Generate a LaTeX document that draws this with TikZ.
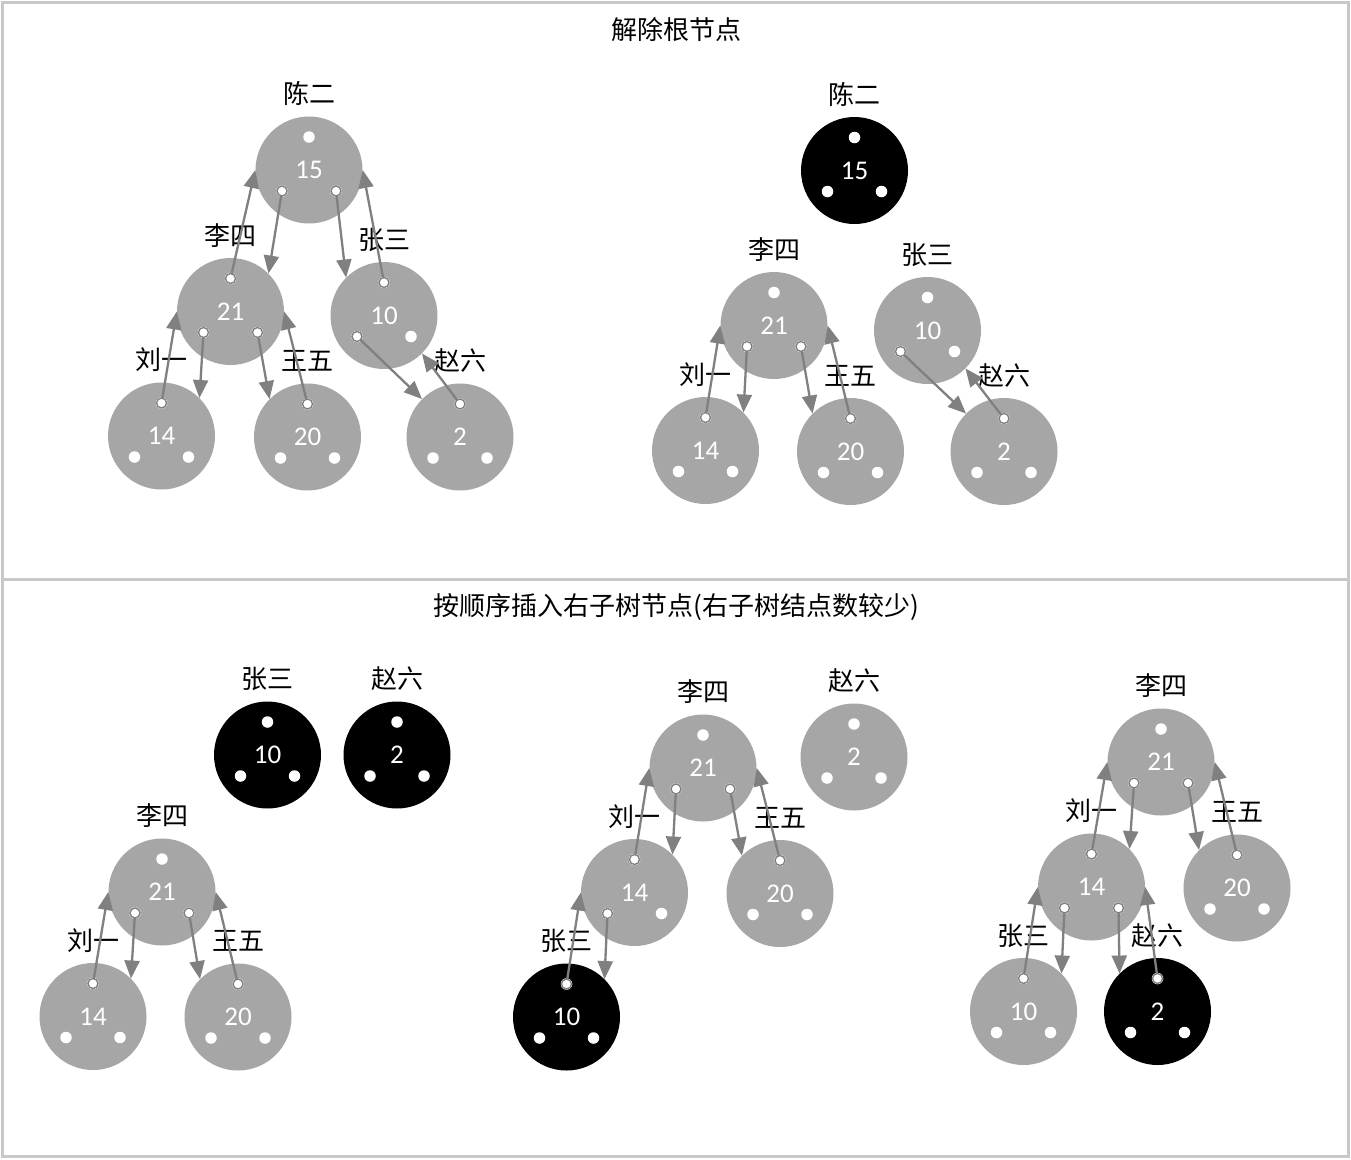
\documentclass[tikz,border=0pt]{standalone}
\usepackage{fontspec}
\setmainfont{Carlito}
\newfontfamily\cjk{Noto Sans CJK SC}
\usetikzlibrary{arrows.meta,calc}
\definecolor{nodegray}{HTML}{A6A6A6}
\definecolor{arrgray}{HTML}{808080}
\definecolor{framegray}{HTML}{C8C8C8}
\tikzset{
  gnode/.style={circle,fill=nodegray,inner sep=0pt,minimum size=107pt,text=white,font=\fontsize{27}{30}\selectfont},
  bnode/.style={circle,fill=black,inner sep=0pt,minimum size=107pt,text=white,font=\fontsize{27}{30}\selectfont},
  dotw/.style={circle,fill=white,inner sep=0pt,minimum size=11.5pt},
  dotring/.style={circle,fill=white,draw=arrgray,line width=1.4pt,inner sep=0pt,minimum size=10pt},
  lbl/.style={font=\cjk\fontsize{26}{30}\selectfont,text=black,inner sep=0pt},
  ttl/.style={font=\cjk\fontsize{26}{30}\selectfont,text=black,inner sep=0pt},
  arr/.style={draw=arrgray,line width=2.3pt,-{Triangle[length=18pt,width=15pt]}},
  framel/.style={draw=framegray,line width=3pt}
}
% #1 name, #2 x, #3 y, #4 number, #5 style, #6 label
\newcommand\tn[6]{%
  \node[#5] (#1) at (#2,#3) {#4};
  \node[dotw] (#1t) at ($(#1)+(0,-33)$) {};
  \node[dotw] (#1l) at ($(#1)+(-27,21)$) {};
  \node[dotw] (#1r) at ($(#1)+(27,21)$) {};
  \node[lbl] (#1lab) at ($(#1)+(0,-76)$) {#6};
}
\newcommand\ar[2]{%
  \draw[arr] (#1.center) -- (#2);
  \node[dotring] at (#1) {};
}
\begin{document}
\begin{tikzpicture}[x=1pt,y=-1pt]
\useasboundingbox (0,0) rectangle (1351,1159);
\fill[white] (0,0) rectangle (1351,1159);
\draw[framel] (2.5,2.5) rectangle (1348.5,1156.5);
\draw[framel] (2.5,579.5) -- (1348.5,579.5);

\node[ttl] (title1) at (676,30) {解除根节点};
\node[ttl] (title2) at (676,607) {按顺序插入右子树节点(右子树结点数较少)};

% Panel A: top-left
\tn{A15}{309}{170}{15}{gnode}{陈二}
\tn{A21}{230.5}{311.5}{21}{gnode}{李四}
\tn{A10}{384}{315.5}{10}{gnode}{张三}
\tn{A14}{161.5}{436}{14}{gnode}{刘一}
\tn{A20}{307.5}{437}{20}{gnode}{王五}
\tn{A2}{460}{437}{2}{gnode}{赵六}
\ar{A21t}{A15.180}
\ar{A15l}{A21.45}
\ar{A15r}{A10.135}
\ar{A10t}{A15.0}
\ar{A21l}{A14.45}
\ar{A14t}{A21.180}
\ar{A21r}{A20.135}
\ar{A20t}{A21.0}
\ar{A10l}{A2.135}
\ar{A2t}{A10.-45}

% Panel B: top-right
\tn{B15}{854.5}{170.5}{15}{bnode}{陈二}
\tn{B21}{774}{325.5}{21}{gnode}{李四}
\tn{B10}{927.5}{330.5}{10}{gnode}{张三}
\tn{B14}{705.5}{450.5}{14}{gnode}{刘一}
\tn{B20}{850.5}{451.5}{20}{gnode}{王五}
\tn{B2}{1004}{451.5}{2}{gnode}{赵六}
\ar{B21l}{B14.45}
\ar{B14t}{B21.180}
\ar{B21r}{B20.135}
\ar{B20t}{B21.0}
\ar{B10l}{B2.135}
\ar{B2t}{B10.-45}

% Panel C: bottom-left
\tn{C10}{267.5}{755}{10}{bnode}{张三}
\tn{C2}{397}{755}{2}{bnode}{赵六}
\tn{C21}{162}{892}{21}{gnode}{李四}
\tn{C14}{93}{1016.5}{14}{gnode}{刘一}
\tn{C20}{238}{1017}{20}{gnode}{王五}
\ar{C14t}{C21.180}
\ar{C21l}{C14.45}
\ar{C21r}{C20.135}
\ar{C20t}{C21.0}

% Panel D: bottom-middle
\tn{D21}{703}{768}{21}{gnode}{李四}
\tn{D2}{854}{757}{2}{gnode}{赵六}
\tn{D14}{634.5}{892.5}{14}{gnode}{刘一}
\tn{D20}{780}{893.5}{20}{gnode}{王五}
\tn{D10}{566.5}{1017}{10}{bnode}{张三}
\ar{D14t}{D21.180}
\ar{D21l}{D14.45}
\ar{D21r}{D20.135}
\ar{D20t}{D21.0}
\ar{D10t}{D14.180}
\ar{D14l}{D10.45}

% Panel E: bottom-right
\tn{E21}{1161}{762}{21}{gnode}{李四}
\tn{E14}{1091.5}{887}{14}{gnode}{刘一}
\tn{E20}{1237}{888}{20}{gnode}{王五}
\tn{E10}{1023.5}{1011.5}{10}{gnode}{张三}
\tn{E2}{1157.5}{1011.5}{2}{bnode}{赵六}
\ar{E14t}{E21.180}
\ar{E21l}{E14.45}
\ar{E21r}{E20.135}
\ar{E20t}{E21.0}
\ar{E10t}{E14.180}
\ar{E14l}{E10.45}
\ar{E14r}{E2.135}
\ar{E2t}{E14.0}
\end{tikzpicture}
\end{document}
